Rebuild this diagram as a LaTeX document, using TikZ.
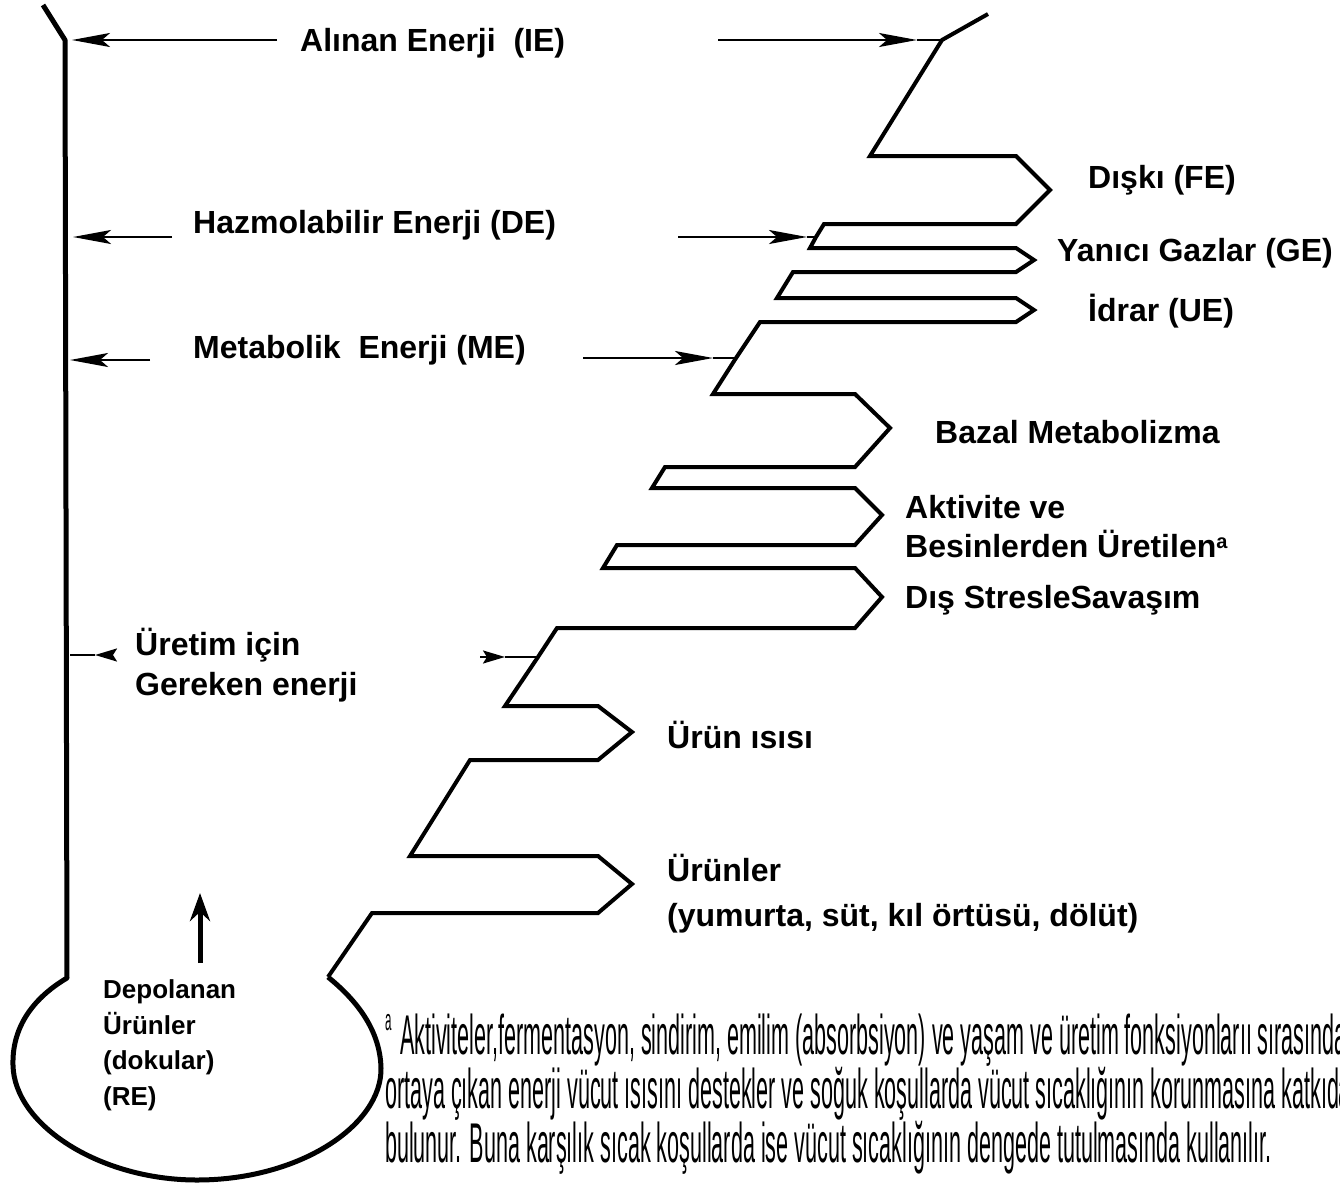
\documentclass[tikz,border=0pt]{standalone}
\usepackage{fontspec}
\setmainfont{Liberation Sans}
\newfontfamily\narrowfont[FakeStretch=0.385]{Liberation Sans}
\usetikzlibrary{arrows.meta}
\begin{document}
\begin{tikzpicture}[x=1pt,y=-1pt,
  lbl/.style={font=\bfseries\fontsize{32}{38}\selectfont, inner sep=0pt, anchor=base west},
  smalllbl/.style={font=\bfseries\fontsize{26}{30}\selectfont, inner sep=0pt, anchor=base west},
  note/.style={font=\narrowfont\fontsize{56}{56}\selectfont, inner sep=0pt, anchor=base west},
  flow/.style={line width=4pt, line join=miter, miter limit=4},
  wall/.style={line width=5pt, line join=round},
  feed/.style={line width=2.2pt},
  headL/.style={-{Stealth[length=38pt,width=14pt,inset=8pt]}},
  headS/.style={-{Stealth[length=22pt,width=13pt,inset=4pt]}}
]
\useasboundingbox (0,0) rectangle (1340,1183);

% ---------- coordinates ----------
\coordinate (w0) at (43,5);
\coordinate (w1) at (65,40);
\coordinate (w2) at (67,978);
\coordinate (zTop) at (988,14);
\coordinate (zIE) at (942,40);
\coordinate (zDE) at (816,237);
\coordinate (zME) at (736,358);
\coordinate (zPR) at (538,657);
\coordinate (zEnd) at (328,977);

% ---------- energy flow (zigzag) ----------
\draw[flow] (zTop) -- (zIE) -- (870,156) -- (1016,156) -- (1050,190) -- (1016,224)
  -- (824,224) -- (zDE) -- (810,248) -- (1016,248) -- (1034,260) -- (1016,272)
  -- (793,272) -- (777,298) -- (1016,298) -- (1034,310) -- (1016,322)
  -- (760,322) -- (zME) -- (713,394) -- (855,394) -- (890,428) -- (855,467)
  -- (665,467) -- (652,488) -- (855,488) -- (882,515) -- (855,545)
  -- (617,545) -- (603,568) -- (855,568) -- (882,597) -- (855,628)
  -- (557,628) -- (zPR) -- (505,706) -- (598,706) -- (632,732) -- (598,760)
  -- (470,760) -- (410,856) -- (598,856) -- (632,884) -- (598,913)
  -- (372,913) -- (zEnd);

% ---------- body (left wall + bulb) ----------
\draw[wall] (w0) -- (w1) -- (w2)
  .. controls (30,1000) and (12,1030) .. (13,1065)
  .. controls (14,1125) and (100,1180) .. (197,1180)
  .. controls (300,1180) and (382,1125) .. (381,1068)
  .. controls (380,1025) and (350,995) .. (zEnd);

% ---------- left arrows ----------
\coordinate (aIEs) at (277,40);  \coordinate (aIEt) at (72,40);
\coordinate (aDEs) at (172,237); \coordinate (aDEt) at (73,237);
\coordinate (aMEs) at (150,360); \coordinate (aMEt) at (70,360);
\draw[feed,headL] (aIEs) -- (aIEt);
\draw[feed,headL] (aDEs) -- (aDEt);
\draw[feed,headL] (aMEs) -- (aMEt);
\coordinate (aPRs) at (112,655); \coordinate (aPRm) at (95,655); \coordinate (aPRt) at (70,655);
\draw[feed,headS] (aPRs) -- (aPRm);
\draw[feed] (aPRm) -- (aPRt);

% ---------- right arrows ----------
\coordinate (bIEs) at (718,40);  \coordinate (bIEt) at (917,40);
\coordinate (bDEs) at (678,237); \coordinate (bDEt) at (807,237);
\coordinate (bMEs) at (583,358); \coordinate (bMEt) at (713,358);
\coordinate (bPRs) at (480,657); \coordinate (bPRt) at (505,657);
\draw[feed,headL] (bIEs) -- (bIEt);  \draw[feed] (bIEt) -- (zIE);
\draw[feed,headL] (bDEs) -- (bDEt);  \draw[feed] (bDEt) -- (zDE);
\draw[feed,headL] (bMEs) -- (bMEt);  \draw[feed] (bMEt) -- (zME);
\draw[feed,headS] (bPRs) -- (bPRt);  \draw[feed] (bPRt) -- (zPR);

% ---------- storage arrow ----------
\coordinate (upS) at (200,963); \coordinate (upT) at (200,893);
\draw[line width=5pt,-{Stealth[length=28pt,width=20pt]}] (upS) -- (upT);

% ---------- labels ----------
\node[lbl] (tIE) at (300,51) {Alınan Enerji\ \ (IE)};
\node[lbl] (tDE) at (193,233) {Hazmolabilir Enerji (DE)};
\node[lbl] (tME) at (193,358) {Metabolik\ \ Enerji (ME)};
\node[lbl] (tFE) at (1088,188) {Dışkı (FE)};
\node[lbl] (tGE) at (1057,261) {Yanıcı Gazlar (GE)};
\node[lbl] (tUE) at (1088,321) {İdrar (UE)};
\node[lbl] (tBM) at (935,443) {Bazal Metabolizma};
\node[lbl] (tAK1) at (905,518) {Aktivite ve};
\node[lbl] (tAK2) at (905,557) {Besinlerden Üretilen\raisebox{9pt}{\fontsize{20}{20}\selectfont a}};
\node[lbl] (tAK3) at (905,608) {Dış StresleSavaşım};
\node[lbl] (tPR1) at (135,655) {Üretim için};
\node[lbl] (tPR2) at (135,695) {Gereken enerji};
\node[lbl] (tHE) at (667,748) {Ürün ısısı};
\node[lbl] (tUR1) at (667,881) {Ürünler};
\node[lbl] (tUR2) at (667,926) {(yumurta, süt, kıl örtüsü, dölüt)};
\node[smalllbl] (tRE1) at (103,998) {Depolanan};
\node[smalllbl] (tRE2) at (103,1034) {Ürünler};
\node[smalllbl] (tRE3) at (103,1069) {(dokular)};
\node[smalllbl] (tRE4) at (103,1105) {(RE)};

% ---------- footnote ----------
\begin{scope}
\clip (0,0) rectangle (1340,1183);
\node[note, font=\narrowfont\fontsize{30}{30}\selectfont] (fa) at (385,1030) {a};
\node[note] (fn1) at (400,1054) {Aktiviteler,fermentasyon, sindirim, emilim (absorbsiyon) ve yaşam ve üretim fonksiyonlarıı sırasında};
\node[note] (fn2) at (385,1108) {ortaya çıkan enerji vücut ısısını destekler ve soğuk koşullarda vücut sıcaklığının korunmasına katkıda};
\node[note] (fn3) at (385,1162) {bulunur. Buna karşılık sıcak koşullarda ise vücut sıcaklığının dengede tutulmasında kullanılır.};
\end{scope}
\end{tikzpicture}
\end{document}
